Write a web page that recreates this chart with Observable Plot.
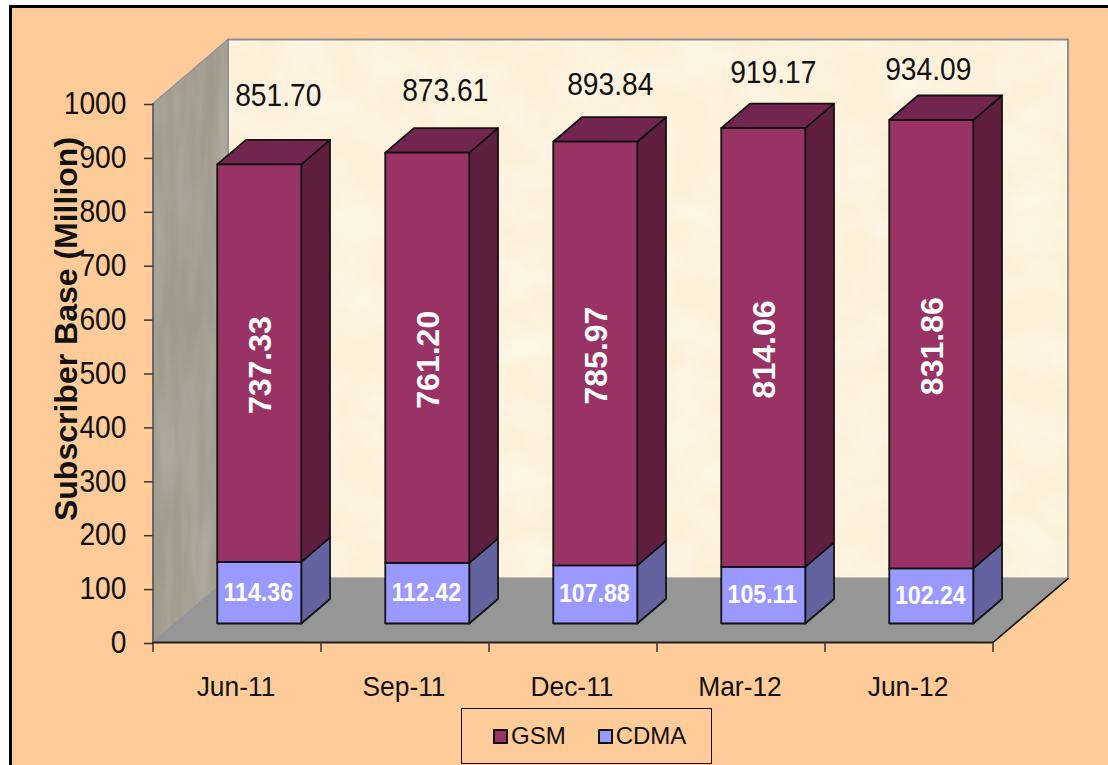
<!DOCTYPE html>
<html>
<head>
<meta charset="utf-8">
<script src="https://cdn.jsdelivr.net/npm/d3@7"></script>
<script src="https://cdn.jsdelivr.net/npm/@observablehq/plot@0.6"></script>
<style>
html,body{margin:0;padding:0;background:#fff;width:1108px;height:765px;overflow:hidden}
#panel{position:absolute;left:9px;top:5px;right:0;bottom:0;background:#FFCC99;border-left:3px solid #000;border-top:3px solid #000}
#chart{position:absolute;left:0;top:0}
#legend{position:absolute;left:461px;top:708px;width:249px;height:54px;border:1.5px solid #111;display:flex;align-items:center;font:24px "Liberation Sans",Arial,sans-serif;color:#111}
#legend i{display:inline-block;width:11px;height:11px;border:2px solid #111;margin-right:3px}
#legend span{display:flex;align-items:center}
</style>
</head>
<body>
<div id="panel"></div>
<div id="chart"></div>
<div id="legend"></div>
<script>
const periods = ["Jun-11", "Sep-11", "Dec-11", "Mar-12", "Jun-12"];
const gsm = [737.33, 761.20, 785.97, 814.06, 831.86];
const cdma = [114.36, 112.42, 107.88, 105.11, 102.24];
const totals = [851.70, 873.61, 893.84, 919.17, 934.09];
const yTicks = [0, 100, 200, 300, 400, 500, 600, 700, 800, 900, 1000];

// Oblique 3D projection, expressed in scale units
const DX = 0.4464, DY = 118.7;
const FRONT = 0.297, BACK = 0.68, LEFT = 0.25, RIGHT = 0.75;
const P = (i, v, d) => ({x: i + d * DX, y: v + d * DY});

const face = (pts, fill, stroke = "#111", strokeWidth = 1.8) =>
  Plot.line(pts, {x: "x", y: "y", fill, stroke, strokeWidth, curve: "linear-closed", strokeLinejoin: "round"});

const n = periods.length;
const walls = [
  face([P(0, 0, 1), P(n, 0, 1), P(n, 1000, 1), P(0, 1000, 1)], "url(#paper)", "#8f9090", 2),
  face([P(0, 0, 0), P(0, 0, 1), P(0, 1000, 1), P(0, 1000, 0)], "url(#stone)", "#8f9499", 1.5),
  face([P(0, 0, 0), P(0, 0, 1), P(n, 0, 1), P(n, 0, 0)], "#969696", "none", 0),
  Plot.line([P(n, 0, 0), P(n, 0, 1)], {x: "x", y: "y", stroke: "#111", strokeWidth: 1.6}),
  Plot.line([P(0, 0, 0), P(n, 0, 0)], {x: "x", y: "y", stroke: "#222", strokeWidth: 2.2})
];

const bars = periods.flatMap((_, i) => {
  const a = i + LEFT, b = i + RIGHT, c = cdma[i], t = c + gsm[i];
  return [
    face([P(b, 0, FRONT), P(b, 0, BACK), P(b, c, BACK), P(b, c, FRONT)], "#63639F"),
    face([P(b, c, FRONT), P(b, c, BACK), P(b, t, BACK), P(b, t, FRONT)], "#5F1F40"),
    face([P(a, t, FRONT), P(b, t, FRONT), P(b, t, BACK), P(a, t, BACK)], "#72264F"),
    face([P(a, 0, FRONT), P(b, 0, FRONT), P(b, c, FRONT), P(a, c, FRONT)], "#9999FF"),
    face([P(a, c, FRONT), P(b, c, FRONT), P(b, t, FRONT), P(a, t, FRONT)], "#993366")
  ];
});

const mid = i => i + 0.5 + FRONT * DX;
const labelFont = {fontFamily: "'Liberation Sans',Arial,sans-serif"};
const inner = periods.flatMap((_, i) => [
  Plot.text([cdma[i].toFixed(2)], {
    x: () => mid(i), y: () => cdma[i] / 2 + FRONT * DY, text: d => d, dx: -1,
    fill: "#fff", fontWeight: "bold", fontSize: 25, className: "tall", ...labelFont
  }),
  Plot.text([gsm[i].toFixed(2)], {
    x: () => mid(i), y: () => cdma[i] + gsm[i] / 2 + FRONT * DY, text: d => d, dx: 1, dy: 2,
    fill: "#fff", fontWeight: "bold", fontSize: 32, rotate: -90, ...labelFont
  })
]);

// The total labels were hand-placed in the source chart, at differing offsets from each bar
const totalNudge = [[19, -68], [18, -61], [15, -56], [10, -55], [-3, -50]];
const outer = periods.map((_, i) =>
  Plot.text([totals[i].toFixed(2)], {
    x: () => mid(i), y: () => totals[i] + FRONT * DY, text: d => d,
    dx: totalNudge[i][0], dy: totalNudge[i][1],
    fill: "#111", fontSize: 30.5, className: "tall", ...labelFont
  })
);

const chart = Plot.plot({
  width: 1108, height: 705,
  marginLeft: 153, marginRight: 115, marginTop: 103, marginBottom: 63,
  style: {background: "transparent", overflow: "visible"},
  x: {domain: [0, n], range: [152.5, 992.5], label: null},
  y: {domain: [0, 1000], range: [642, 103], label: null},
  marks: [
    ...walls,
    Plot.axisY(yTicks, {
      anchor: "left", tickSize: 9, tickPadding: 18, label: null, stroke: "#333", strokeWidth: 1.5,
      fontSize: 30.5, fill: "#111", tickFormat: d => String(d), dy: 1, className: "tall", ...labelFont
    }),
    Plot.ruleX([0], {y1: 0, y2: 1000, stroke: "#555", strokeWidth: 1.5}),
    Plot.axisX(d3.range(0, n + 1), {
      anchor: "bottom", tickSize: 10, tickFormat: null, label: null, stroke: "#333", strokeWidth: 1.5, text: null
    }),
    Plot.axisX(periods.map((_, i) => i + 0.5), {
      anchor: "bottom", tickSize: 0, tickPadding: 33, label: null, stroke: "none", fill: "#111",
      fontSize: 28.5, dx: -1, tickFormat: d => periods[d - 0.5], className: "tall", ...labelFont
    }),
    ...bars,
    ...inner,
    ...outer,
    Plot.text(["Subscriber Base (Million)"], {
      frameAnchor: "left", textAnchor: "middle", dx: -87, dy: -44, rotate: -90, text: d => d,
      fill: "#111", fontWeight: "bold", fontSize: 32, ...labelFont
    })
  ]
});

chart.insertAdjacentHTML("afterbegin", `
<defs>
  <filter id="mottle" x="0" y="0" width="100%" height="100%">
    <feTurbulence type="fractalNoise" baseFrequency="0.018 0.024" numOctaves="3" seed="5"/>
    <feColorMatrix values="0 0 0 0 1  0 0 0 0 0.97  0 0 0 0 0.9  0.9 0 0 0 -0.3"/>
  </filter>
  <filter id="grain" x="0" y="0" width="100%" height="100%">
    <feTurbulence type="fractalNoise" baseFrequency="0.06 0.008" numOctaves="3" seed="8"/>
    <feColorMatrix values="0 0 0 0 0.68  0 0 0 0 0.66  0 0 0 0 0.62  0.5 0 0 0 -0.15"/>
  </filter>
  <pattern id="paper" patternUnits="userSpaceOnUse" width="1108" height="705">
    <rect width="1108" height="705" fill="#FDF0D9"/>
    <rect width="1108" height="705" filter="url(#mottle)"/>
  </pattern>
  <pattern id="stone" patternUnits="userSpaceOnUse" width="1108" height="705">
    <rect width="1108" height="705" fill="#A09A8C"/>
    <rect width="1108" height="705" filter="url(#grain)"/>
  </pattern>
</defs>`);
document.getElementById("chart").appendChild(chart);

// The reference's horizontal text is stretched vertically: keep its height, narrow its advance
chart.querySelectorAll("text").forEach(el => {
  const inTall = el.closest(".tall") || el.classList.contains("tall");
  if (!inTall) return;
  el.setAttribute("textLength", (el.getComputedTextLength() * 0.925).toFixed(1));
  el.setAttribute("lengthAdjust", "spacingAndGlyphs");
});

const legendItems = [["GSM", "#993366", 31], ["CDMA", "#9999FF", 32]];
document.getElementById("legend").innerHTML = legendItems.map(([t, c, ml]) =>
  `<span style="margin-left:${ml}px"><i style="background:${c}"></i>${t}</span>`).join("");
</script>
</body>
</html>
